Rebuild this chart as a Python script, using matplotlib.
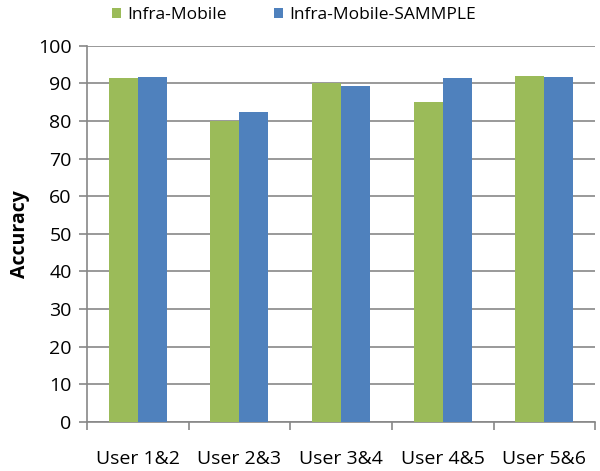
import matplotlib
matplotlib.use('Agg')

import matplotlib.pyplot as plt
import numpy as np

categories = ['User 1&2', 'User 2&3', 'User 3&4', 'User 4&5', 'User 5&6']
infra_mobile = [91.5, 80.0, 90.0, 85.0, 92.0]
infra_mobile_sammple = [91.7, 82.5, 89.4, 91.5, 91.7]
series_names = ['Infra-Mobile', 'Infra-Mobile-SAMMPLE']

plt.rcParams['font.family'] = ['Open Sans', 'DejaVu Sans']


def main():
    fig = plt.figure(figsize=(6, 4.71), dpi=100)
    ax = fig.add_axes([0.145, 0.104, 0.847, 0.799])

    x = np.arange(len(categories))
    w = 0.285
    ax.bar(x - w / 2, infra_mobile, w, color='#9BBB59', label=series_names[0], zorder=3)
    ax.bar(x + w / 2, infra_mobile_sammple, w, color='#4F81BD', label=series_names[1], zorder=3)

    ax.set_ylim(0, 100)
    ax.set_xlim(-0.5, len(categories) - 0.5)
    ax.set_yticks(np.arange(0, 101, 10))
    ax.yaxis.grid(True, color='#878787', linewidth=1.2, zorder=0)

    ax.set_xticks(x)
    ax.set_xticklabels(categories, fontsize=14)
    ax.set_xticks(np.arange(-0.5, len(categories), 1), minor=True)
    ax.tick_params(axis='x', which='major', length=0, pad=20)
    ax.tick_params(axis='x', which='minor', length=6, color='#878787', width=1.2)
    ax.tick_params(axis='y', labelsize=14, length=6, color='#878787', width=1.2, pad=5)

    for side in ['top', 'right']:
        ax.spines[side].set_visible(False)
    for side in ['left', 'bottom']:
        ax.spines[side].set_color('#878787')
        ax.spines[side].set_linewidth(1.2)

    ax.set_ylabel('Accuracy', fontsize=14, fontweight='bold', labelpad=6)

    fig.legend(loc='upper center', bbox_to_anchor=(0.49, 1.018), ncol=2, frameon=False,
               fontsize=12.5, handlelength=0.55, handleheight=0.55, columnspacing=2.7,
               handletextpad=0.35)

    fig.savefig('out.png')
    plt.close(fig)


if __name__ == '__main__':
    main()
